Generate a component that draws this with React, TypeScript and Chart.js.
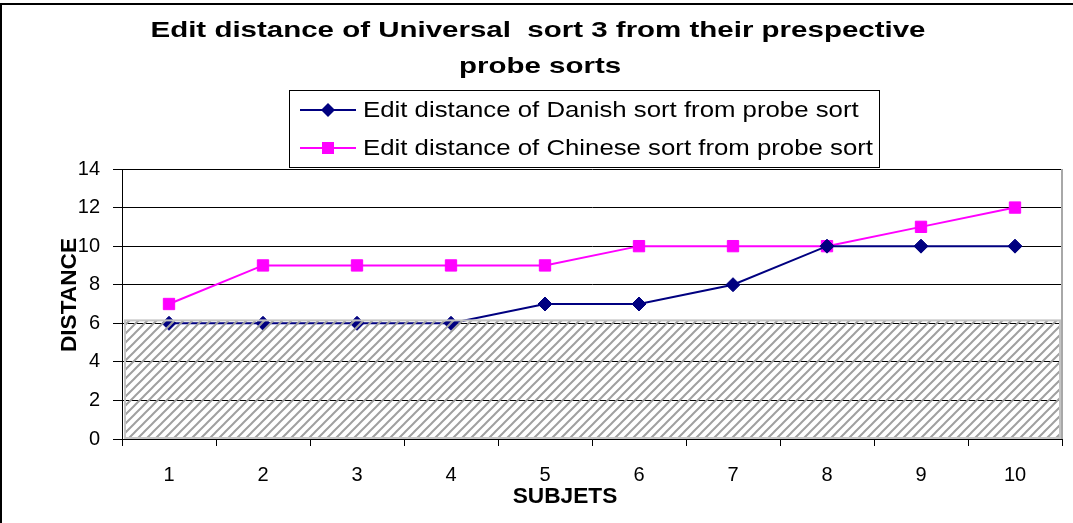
import React, { useEffect, useRef } from 'react';
import { Chart, registerables } from 'chart.js';

Chart.register(...registerables);

const TITLE_LINES = ['Edit distance of Universal  sort 3 from their prespective', 'probe sorts'];
const SUBJECTS = ['1', '2', '3', '4', '5', '6', '7', '8', '9', '10'];
const DANISH = [6, 6, 6, 6, 7, 7, 8, 10, 10, 10];
const CHINESE = [7, 9, 9, 9, 9, 10, 10, 10, 11, 12];
const DANISH_LABEL = 'Edit distance of Danish sort from probe sort';
const CHINESE_LABEL = 'Edit distance of Chinese sort from probe sort';
const Y_TITLE = 'DISTANCE';
const X_TITLE = 'SUBJETS';
const Y_MIN = 0;
const Y_MAX = 14;
const Y_STEP = 2;
const HATCH_LEVEL = 6.15;

const FAMILY = '"Liberation Sans", Arial, Helvetica, sans-serif';
const NAVY = '#000080';
const MAGENTA = '#ff00ff';

function fillScaled(ctx: CanvasRenderingContext2D, text: string, x: number, y: number, sx: number, align: CanvasTextAlign) {
  ctx.save();
  ctx.translate(x, y);
  ctx.scale(sx, 1);
  ctx.textAlign = align;
  ctx.fillText(text, 0, 0);
  ctx.restore();
}

function makeHatch(): CanvasPattern | string {
  const p = document.createElement('canvas');
  p.width = 9;
  p.height = 9;
  const pc = p.getContext('2d');
  if (!pc) return '#bbbbbb';
  pc.strokeStyle = '#a0a0a0';
  pc.lineWidth = 2;
  pc.lineCap = 'square';
  const seg = (x1: number, y1: number, x2: number, y2: number) => {
    pc.beginPath();
    pc.moveTo(x1, y1);
    pc.lineTo(x2, y2);
    pc.stroke();
  };
  seg(-2, 11, 11, -2);
  seg(-2, 2, 2, -2);
  seg(7, 11, 11, 7);
  const c = document.createElement('canvas').getContext('2d');
  return (c && c.createPattern(p, 'repeat')) || '#bbbbbb';
}

const decorPlugin = {
  id: 'decor',
  beforeDraw(chart: any) {
    const ctx: CanvasRenderingContext2D = chart.ctx;
    ctx.save();
    ctx.fillStyle = '#ffffff';
    ctx.fillRect(0, 0, chart.width, chart.height);
    ctx.strokeStyle = '#000000';
    ctx.lineWidth = 2;
    ctx.beginPath();
    ctx.moveTo(0, 4);
    ctx.lineTo(chart.width, 4);
    ctx.moveTo(1, 4);
    ctx.lineTo(1, chart.height);
    ctx.stroke();
    ctx.restore();
  },
  beforeDatasetsDraw(chart: any) {
    const ctx: CanvasRenderingContext2D = chart.ctx;
    const a = chart.chartArea;
    ctx.save();
    ctx.strokeStyle = '#a8a8a8';
    ctx.lineWidth = 2;
    ctx.beginPath();
    ctx.moveTo(a.right, a.top);
    ctx.lineTo(a.right, a.bottom);
    ctx.stroke();
    ctx.restore();
  },
  afterDatasetsDraw(chart: any) {
    const ctx: CanvasRenderingContext2D = chart.ctx;
    const a = chart.chartArea;
    const yTop = chart.scales.y.getPixelForValue(HATCH_LEVEL);
    const x0 = a.left + 3;
    const x1 = a.right - 2;
    const y1 = a.bottom - 1;
    ctx.save();
    ctx.fillStyle = makeHatch() as any;
    ctx.fillRect(x0, yTop, x1 - x0, y1 - yTop);
    ctx.strokeStyle = '#c4c4c4';
    ctx.lineWidth = 2;
    ctx.strokeRect(x0, yTop, x1 - x0, y1 - yTop);
    ctx.restore();
  },
  afterDraw(chart: any) {
    const ctx: CanvasRenderingContext2D = chart.ctx;
    ctx.save();
    ctx.fillStyle = '#000000';
    ctx.textBaseline = 'middle';

    // Title
    ctx.font = `bold 22px ${FAMILY}`;
    const tw = ctx.measureText(TITLE_LINES[0]).width;
    const tsx = 775 / tw;
    fillScaled(ctx, TITLE_LINES[0], 538, 31, tsx, 'center');
    fillScaled(ctx, TITLE_LINES[1], 540, 67, tsx, 'center');

    // Legend
    const bx = 289, by = 90, bw = 590, bh = 77;
    ctx.strokeStyle = '#000000';
    ctx.lineWidth = 1;
    ctx.strokeRect(bx + 0.5, by + 0.5, bw, bh);
    ctx.font = `22px ${FAMILY}`;
    const lw = ctx.measureText(CHINESE_LABEL).width;
    const lsx = 510 / lw;
    const entries = [
      { label: DANISH_LABEL, color: NAVY, y: 110, shape: 'diamond' },
      { label: CHINESE_LABEL, color: MAGENTA, y: 148, shape: 'square' },
    ];
    for (const e of entries) {
      ctx.strokeStyle = e.color;
      ctx.fillStyle = e.color;
      ctx.lineWidth = 2;
      ctx.beginPath();
      ctx.moveTo(300, e.y);
      ctx.lineTo(356, e.y);
      ctx.stroke();
      const cx = 328;
      if (e.shape === 'diamond') {
        ctx.beginPath();
        ctx.moveTo(cx, e.y - 7);
        ctx.lineTo(cx + 7, e.y);
        ctx.lineTo(cx, e.y + 7);
        ctx.lineTo(cx - 7, e.y);
        ctx.closePath();
        ctx.fill();
      } else {
        ctx.fillRect(cx - 6, e.y - 6, 12, 12);
      }
      ctx.fillStyle = '#000000';
      fillScaled(ctx, e.label, 363, e.y + 1, lsx, 'left');
    }

    // Axis titles
    ctx.fillStyle = '#000000';
    ctx.font = `bold 22px ${FAMILY}`;
    fillScaled(ctx, X_TITLE, 565, 497, 1.03, 'center');
    ctx.save();
    ctx.translate(70, 295);
    ctx.rotate(-Math.PI / 2);
    fillScaled(ctx, Y_TITLE, 0, 0, 1.03, 'center');
    ctx.restore();

    ctx.restore();
  },
};

export default function App() {
  const canvasRef = useRef<HTMLCanvasElement | null>(null);

  useEffect(() => {
    document.body.style.margin = '0';
    const canvas = canvasRef.current;
    if (!canvas) return;
    const tickFont = { family: FAMILY, size: 20 };
    const chart = new Chart(canvas, {
      type: 'line',
      data: {
        labels: SUBJECTS,
        datasets: [
          {
            label: DANISH_LABEL,
            data: DANISH,
            borderColor: NAVY,
            backgroundColor: NAVY,
            borderWidth: 2,
            pointStyle: 'rectRot',
            pointRadius: 7,
            pointBorderWidth: 1,
            pointBackgroundColor: NAVY,
            pointBorderColor: NAVY,
            tension: 0,
            fill: false,
          },
          {
            label: CHINESE_LABEL,
            data: CHINESE,
            borderColor: MAGENTA,
            backgroundColor: MAGENTA,
            borderWidth: 2,
            pointStyle: 'rect',
            pointRadius: 8,
            pointBorderWidth: 1,
            pointBackgroundColor: MAGENTA,
            pointBorderColor: MAGENTA,
            tension: 0,
            fill: false,
          },
        ],
      },
      options: {
        responsive: false,
        animation: false,
        devicePixelRatio: 1,
        layout: { padding: { top: 169, right: 11, left: 0, bottom: 0 } },
        plugins: {
          legend: { display: false },
          title: { display: false },
          tooltip: { enabled: false },
        },
        scales: {
          x: {
            type: 'category',
            offset: true,
            grid: { offset: true, drawOnChartArea: false, drawTicks: true, tickLength: 7, color: '#000000' },
            border: { color: '#000000', width: 1 },
            ticks: { color: '#000000', font: tickFont, padding: 17, maxRotation: 0, autoSkip: false },
            afterFit: (s: any) => {
              s.height = 84;
            },
          },
          y: {
            min: Y_MIN,
            max: Y_MAX,
            ticks: { stepSize: Y_STEP, color: '#000000', font: tickFont, padding: 13 },
            grid: { color: '#000000', tickLength: 9, lineWidth: 1 },
            border: { color: '#000000', width: 1 },
            afterFit: (s: any) => {
              s.width = 122;
            },
          },
        },
      },
      plugins: [decorPlugin],
    } as any);
    return () => chart.destroy();
  }, []);

  return (
    <div style={{ width: 1073, height: 523 }}>
      <canvas ref={canvasRef} width={1073} height={523} style={{ display: 'block' }} />
    </div>
  );
}
